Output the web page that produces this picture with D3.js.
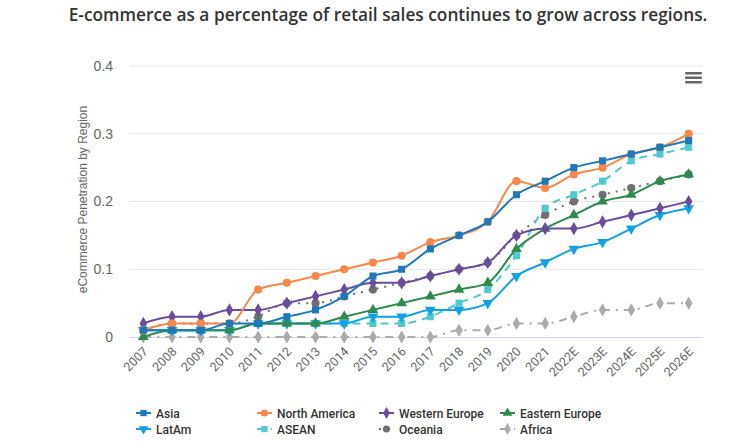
<!DOCTYPE html>
<html>
<head>
<meta charset="utf-8">
<script src="https://cdn.jsdelivr.net/npm/d3@7"></script>
<style>
  body { margin: 0; background: #fff; }
  svg { display: block; }
</style>
</head>
<body>
<script>
// Data
//= ================================
var years = ["2007", "2008", "2009", "2010", "2011", "2012", "2013", "2014", "2015", "2016",
    "2017", "2018", "2019", "2020", "2021", "2022E", "2023E", "2024E", "2025E", "2026E"];

var asia = [0.01, 0.01, 0.01, 0.02, 0.02, 0.03, 0.04, 0.06, 0.09, 0.10, 0.13, 0.15, 0.17, 0.21, 0.23, 0.25, 0.26, 0.27, 0.28, 0.29];
var northAmerica = [0.01, 0.02, 0.02, 0.02, 0.07, 0.08, 0.09, 0.10, 0.11, 0.12, 0.14, 0.15, 0.17, 0.23, 0.22, 0.24, 0.25, 0.27, 0.28, 0.30];
var westernEurope = [0.02, 0.03, 0.03, 0.04, 0.04, 0.05, 0.06, 0.07, 0.08, 0.08, 0.09, 0.10, 0.11, 0.15, 0.16, 0.16, 0.17, 0.18, 0.19, 0.20];
var easternEurope = [0, 0.01, 0.01, 0.01, 0.02, 0.02, 0.02, 0.03, 0.04, 0.05, 0.06, 0.07, 0.08, 0.13, 0.16, 0.18, 0.20, 0.21, 0.23, 0.24];
var latAm = [0.01, 0.01, 0.01, 0.01, 0.02, 0.02, 0.02, 0.02, 0.03, 0.03, 0.04, 0.04, 0.05, 0.09, 0.11, 0.13, 0.14, 0.16, 0.18, 0.19];
var asean = [0.01, 0.01, 0.01, 0.01, 0.02, 0.02, 0.02, 0.02, 0.02, 0.02, 0.03, 0.05, 0.07, 0.12, 0.19, 0.21, 0.23, 0.26, 0.27, 0.28];
var oceania = [0.01, 0.02, 0.02, 0.02, 0.03, 0.05, 0.05, 0.06, 0.07, 0.08, 0.09, 0.10, 0.11, 0.15, 0.18, 0.20, 0.21, 0.22, 0.23, 0.24];
var africa = [0, 0, 0, 0, 0, 0, 0, 0, 0, 0, 0, 0.01, 0.01, 0.02, 0.02, 0.03, 0.04, 0.04, 0.05, 0.05];

var yTicks = [0, 0.1, 0.2, 0.3, 0.4];

var series = [
    { name: "Asia", values: asia, color: "#1f78b8", symbol: d3.symbolSquare, dash: null },
    { name: "North America", values: northAmerica, color: "#f7884a", symbol: d3.symbolCircle, dash: null },
    { name: "Western Europe", values: westernEurope, color: "#6a4c9c", symbol: d3.symbolDiamond, dash: null },
    { name: "Eastern Europe", values: easternEurope, color: "#2e8a4e", symbol: d3.symbolTriangle, dash: null },
    { name: "LatAm", values: latAm, color: "#12a2e4", symbol: d3.symbolTriangle, flip: true, dash: null },
    { name: "ASEAN", values: asean, color: "#4ecacd", symbol: d3.symbolSquare, dash: "8,6" },
    { name: "Oceania", values: oceania, color: "#707070", symbol: d3.symbolCircle, dash: "2,6" },
    { name: "Africa", values: africa, color: "#ababab", symbol: d3.symbolDiamond, dash: "8,6,2,6" }
];

// Step 1: Set up our chart
//= ================================
var svgWidth = 749;
var svgHeight = 447;

var plot = { left: 129, right: 703, top: 66, bottom: 337 };

var svg = d3.select("body")
    .append("svg")
    .attr("width", svgWidth)
    .attr("height", svgHeight);

// title
svg.append("text")
    .attr("x", 388)
    .attr("y", 21)
    .attr("text-anchor", "middle")
    .style("font-family", "'Open Sans', sans-serif")
    .style("font-weight", "600")
    .style("font-size", "17.3px")
    .style("fill", "#333")
    .text("E-commerce as a percentage of retail sales continues to grow across regions.");

// scales
var xScale = d3.scaleBand()
    .domain(years)
    .range([plot.left, plot.right]);

var yScale = d3.scaleLinear()
    .domain([0, 0.4])
    .range([plot.bottom, plot.top]);

var xPos = d => xScale(d) + xScale.bandwidth() / 2;

// gridlines
svg.append("g")
    .selectAll("line")
    .data(yTicks.slice(1))
    .enter()
    .append("line")
    .attr("x1", plot.left)
    .attr("x2", plot.right)
    .attr("y1", d => yScale(d))
    .attr("y2", d => yScale(d))
    .attr("stroke", "#e6e6e6")
    .attr("stroke-width", 1);

svg.append("line")
    .attr("x1", plot.left)
    .attr("x2", plot.right)
    .attr("y1", yScale(0) + 0.5)
    .attr("y2", yScale(0) + 0.5)
    .attr("stroke", "#ccd6eb");

// y axis
var leftAxis = d3.axisLeft(yScale)
    .tickValues(yTicks)
    .tickSize(0)
    .tickPadding(16)
    .tickFormat(d => d3.format("")(d));

var yAxisG = svg.append("g")
    .attr("transform", `translate(${plot.left}, 0)`)
    .call(leftAxis);
yAxisG.select(".domain").remove();
yAxisG.selectAll("text")
    .style("font-family", "'Liberation Sans', Arial, sans-serif")
    .style("font-size", "14px")
    .style("fill", "#666");

svg.append("text")
    .attr("transform", `translate(87, ${(plot.top + plot.bottom) / 2 - 2}) rotate(-90)`)
    .attr("text-anchor", "middle")
    .style("font-family", "'Liberation Sans', Arial, sans-serif")
    .style("font-size", "12px")
    .style("fill", "#666")
    .text("eCommerce Penetration by Region");

// x axis
var bottomAxis = d3.axisBottom(xScale)
    .tickSize(0)
    .tickPadding(6);

var xAxisG = svg.append("g")
    .attr("transform", `translate(0, ${plot.bottom})`)
    .call(bottomAxis);
xAxisG.select(".domain").remove();
xAxisG.selectAll("text")
    .attr("text-anchor", "end")
    .attr("dy", "0.35em")
    .attr("transform", "translate(-2, 8) rotate(-45)")
    .style("font-family", "Roboto, sans-serif")
    .style("font-size", "12.5px")
    .style("fill", "#666");

// lines
var line = d3.line()
    .x((d, i) => xPos(years[i]))
    .y(d => yScale(d))
    .curve(d3.curveMonotoneX);

var markerPath = function (s, size) {
    return d3.symbol().type(s.symbol).size(size)();
};

var lineGroup = svg.append("g");
series.slice().reverse().forEach(function (s) {
    var g = lineGroup.append("g");
    g.append("path")
        .attr("d", line(s.values))
        .attr("fill", "none")
        .attr("stroke", s.color)
        .attr("stroke-width", 2)
        .attr("stroke-dasharray", s.dash);

    g.selectAll(".marker")
        .data(s.values)
        .enter()
        .append("path")
        .classed("marker", true)
        .attr("d", markerPath(s, s.symbol === d3.symbolCircle ? 52 : 50))
        .attr("transform", (d, i) => `translate(${xPos(years[i])}, ${yScale(d)})` + (s.flip ? " rotate(180)" : ""))
        .attr("fill", s.color);
});

// legend
var legendX = [136, 257, 379, 500];
var legend = svg.append("g");
series.forEach(function (s, i) {
    var lx = legendX[i % 4];
    var ly = 413 + Math.floor(i / 4) * 16;
    var item = legend.append("g").attr("transform", `translate(${lx}, ${ly})`);
    item.append("line")
        .attr("x1", 0)
        .attr("x2", 15)
        .attr("stroke", s.color)
        .attr("stroke-width", 2)
        .attr("stroke-dasharray", s.dash);
    item.append("path")
        .attr("d", markerPath(s, 40))
        .attr("transform", "translate(7.5, 0)" + (s.flip ? " rotate(180)" : ""))
        .attr("fill", s.color);
    item.append("text")
        .attr("x", 20)
        .attr("y", 4.5)
        .style("font-family", "Roboto, sans-serif")
        .style("font-weight", "500")
        .style("font-size", "12px")
        .style("fill", "#333")
        .text(s.name);
});

// menu icon
svg.append("g")
    .selectAll("rect")
    .data([0, 1, 2])
    .enter()
    .append("rect")
    .attr("x", 685)
    .attr("y", d => 72 + d * 4.5)
    .attr("width", 17)
    .attr("height", 2.5)
    .attr("rx", 1)
    .attr("fill", "#666");
</script>
</body>
</html>
